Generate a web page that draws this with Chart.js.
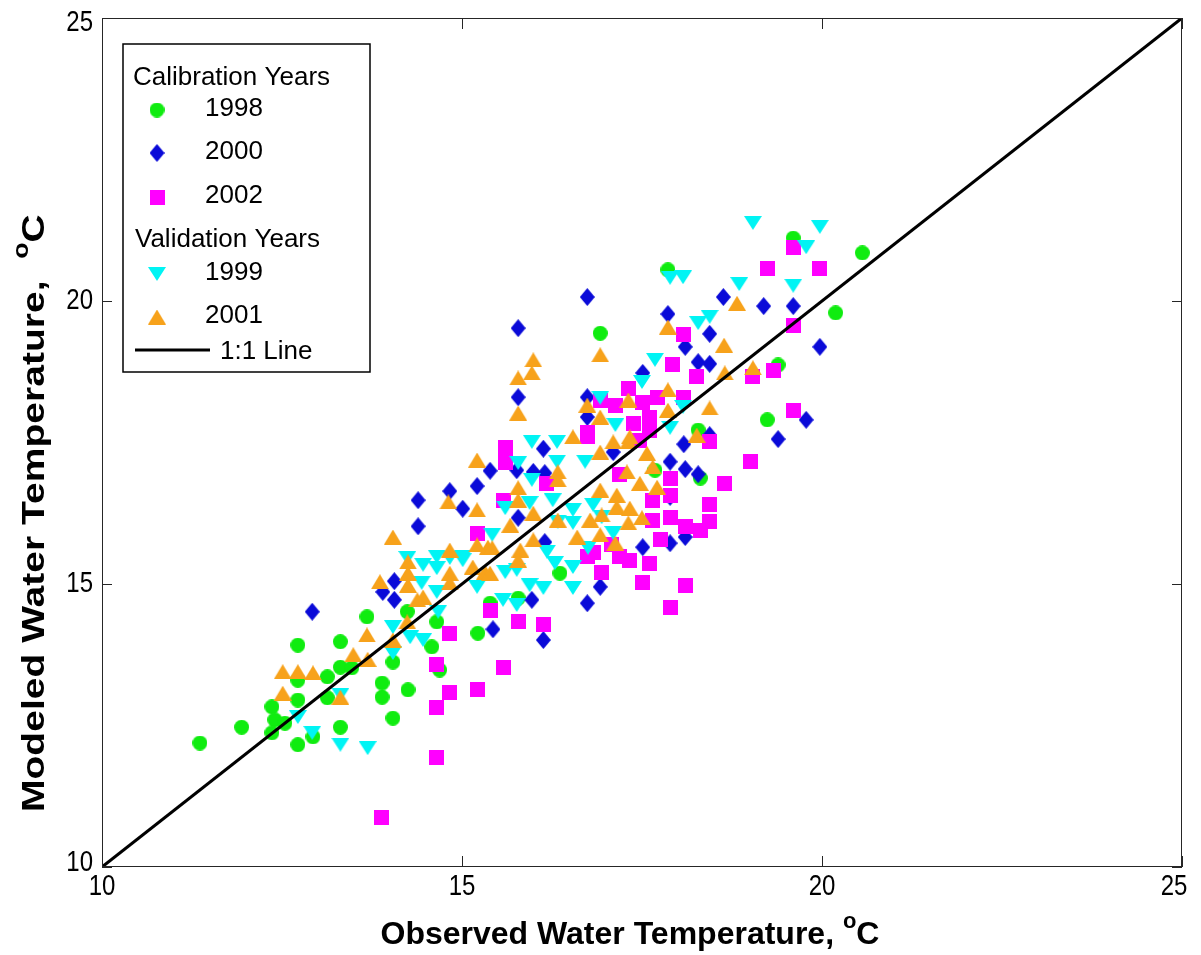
<!DOCTYPE html>
<html>
<head>
<meta charset="utf-8">
<title>Observed vs Modeled Water Temperature</title>
<script src="https://cdn.jsdelivr.net/npm/chart.js@4/dist/chart.umd.min.js"></script>
<style>
  html, body { margin: 0; padding: 0; background: #fff; }
  #wrap { width: 1201px; height: 955px; }
</style>
</head>
<body>
<div id="wrap"><canvas id="tempChart" width="1201" height="955"></canvas></div>
<script>
// observed / modeled water temperature (deg C) per year
var obs1998 = [11.36, 11.94, 12.36, 12.40, 12.36, 12.54, 12.72, 12.72, 12.72, 12.72, 12.93, 13.13, 13.13, 13.31,
  13.31, 13.47, 13.31, 13.68, 13.89, 13.89, 14.04, 14.25, 14.04, 14.24, 14.65, 14.58, 15.22, 15.39, 15.78, 16.36,
  16.92, 17.86, 19.60, 20.56, 20.19, 19.24, 18.28, 18.31, 17.68, 19.39, 14.69];
var mod1998 = [12.19, 12.47, 12.83, 12.60, 12.37, 12.54, 13.92, 13.30, 12.95, 12.16, 12.30, 13.36, 12.99, 13.98,
  13.53, 13.52, 12.47, 14.42, 13.25, 13.00, 13.62, 13.13, 12.63, 14.51, 14.33, 13.89, 14.13, 14.66, 14.75, 15.19,
  19.43, 20.55, 21.11, 20.85, 19.79, 17.90, 17.72, 16.87, 17.01, 18.87, 13.48];

var obs2000 = [12.92, 14.06, 14.06, 13.90, 14.39, 14.39, 14.83, 15.01, 15.21, 15.39, 16.13, 15.76, 15.99, 16.15,
  15.78, 16.15, 17.51, 16.92, 16.74, 15.97, 17.10, 16.74, 15.78, 15.78, 16.74, 17.51, 18.63, 19.19, 19.60, 17.86,
  18.44, 18.10, 19.97, 18.28, 18.44, 19.78, 19.39, 18.08, 17.89, 18.10, 18.28, 18.44, 17.89, 18.10, 17.89, 15.43,
  16.13, 16.74];
var mod2000 = [14.51, 15.05, 14.72, 14.86, 16.48, 16.02, 16.64, 16.33, 16.73, 17.00, 17.39, 17.01, 16.98, 16.96,
  16.17, 15.74, 15.65, 14.95, 14.66, 14.72, 17.33, 20.07, 19.52, 18.30, 18.30, 18.73, 20.07, 19.91, 19.91, 19.77,
  19.42, 19.19, 19.19, 18.92, 18.89, 17.90, 17.56, 17.47, 17.16, 17.03, 16.94, 17.63, 16.54, 15.83, 15.72, 14.20,
  14.01, 17.95];

var obs2002 = [13.88, 14.65, 14.65, 14.83, 15.22, 14.65, 15.58, 14.83, 15.78, 16.13, 15.39, 15.60, 15.60, 16.74,
  17.38, 17.61, 15.21, 16.82, 16.94, 17.19, 17.33, 17.50, 17.61, 15.57, 16.18, 17.65, 17.65, 16.74, 17.89, 17.89,
  17.89, 18.10, 18.31, 18.44, 18.44, 18.64, 19.00, 18.44, 18.10, 17.89, 17.75, 18.07, 17.93, 18.26, 17.31, 17.51,
  17.71, 17.13, 18.07, 19.32, 19.04, 17.61, 16.74, 19.60, 19.24, 19.97, 19.60, 19.60, 17.08, 16.92, 17.47, 17.19];
var mod2002 = [10.88, 11.94, 12.81, 13.09, 13.13, 13.57, 13.53, 14.12, 14.33, 14.28, 14.54, 17.42, 17.14, 17.60,
  17.84, 17.72, 15.90, 15.55, 15.21, 15.48, 15.42, 15.02, 15.37, 16.48, 16.78, 16.48, 16.13, 15.48, 16.87, 16.57,
  16.18, 16.01, 15.95, 16.10, 16.40, 16.78, 17.16, 17.51, 14.98, 14.58, 15.78, 19.40, 18.87, 18.66, 18.46, 18.20,
  18.30, 18.16, 18.30, 18.78, 18.66, 17.95, 17.67, 20.94, 20.58, 20.58, 19.56, 18.07, 15.69, 18.25, 17.54, 16.93];

var obs1999 = [12.72, 12.92, 13.31, 13.69, 13.31, 14.04, 14.28, 14.04, 14.24, 14.46, 14.65, 14.83, 15.01, 14.44,
  14.65, 15.21, 14.67, 14.46, 15.97, 16.32, 17.13, 15.78, 16.32, 16.71, 15.97, 15.60, 15.94, 16.26, 16.54, 16.82,
  16.94, 17.10, 15.42, 14.65, 15.01, 15.60, 15.76, 16.18, 16.29, 16.54, 15.94, 16.13, 16.54, 15.57, 15.76, 16.75,
  16.54, 16.33, 18.28, 18.44, 17.68, 17.50, 16.92, 18.07, 17.89, 19.04, 19.97, 19.78, 17.89, 18.07, 18.85, 19.60];
var mod1999 = [12.65, 12.37, 12.16, 12.10, 13.04, 14.24, 14.06, 13.78, 15.46, 15.34, 15.28, 15.46, 15.42, 15.02,
  14.86, 14.95, 14.51, 14.01, 17.51, 17.51, 17.81, 17.14, 17.16, 17.16, 16.84, 16.34, 16.43, 16.48, 16.31, 16.40,
  16.18, 15.90, 15.87, 15.48, 15.48, 15.21, 15.25, 15.57, 15.37, 15.30, 14.98, 14.93, 14.93, 14.72, 14.63, 15.64,
  16.08, 16.10, 19.61, 19.72, 18.96, 18.57, 18.29, 18.13, 17.76, 21.38, 21.31, 20.95, 20.41, 20.42, 20.30, 20.27];

var obs2001 = [13.68, 13.49, 13.69, 12.51, 12.72, 12.93, 12.51, 13.31, 14.04, 14.24, 14.04, 13.86, 14.25, 14.25,
  14.25, 14.46, 14.83, 14.83, 15.15, 15.36, 15.32, 14.38, 15.21, 14.81, 15.21, 15.78, 15.78, 16.33, 16.33, 16.54,
  16.92, 17.10, 17.31, 17.57, 17.65, 17.29, 17.47, 17.71, 16.92, 17.15, 17.15, 17.33, 17.50, 16.94, 16.78, 17.31,
  16.33, 15.99, 15.67, 17.13, 16.92, 16.60, 15.99, 15.81, 15.78, 15.42, 15.21, 14.83, 15.39, 18.82, 17.86, 16.92,
  18.64, 19.04, 18.65, 17.86, 17.31, 16.74, 16.92, 17.86, 18.44, 17.33, 18.26, 15.99, 15.97, 15.78, 15.78];
var mod2001 = [14.10, 13.75, 13.67, 13.45, 13.45, 13.43, 13.07, 13.00, 14.01, 14.33, 15.83, 15.04, 15.39, 15.19,
  14.98, 14.77, 15.60, 15.19, 15.30, 15.65, 15.21, 14.72, 17.19, 16.45, 16.31, 16.70, 16.48, 16.98, 16.84, 17.60,
  17.33, 17.51, 17.51, 17.31, 17.07, 16.98, 16.78, 16.71, 16.66, 16.57, 16.36, 16.34, 16.17, 16.22, 16.13, 16.08,
  16.13, 16.25, 16.04, 15.72, 15.87, 15.83, 15.78, 15.60, 15.42, 15.64, 15.69, 15.02, 15.19, 19.96, 19.54, 19.05,
  19.22, 18.82, 18.73, 18.43, 18.25, 18.16, 17.95, 18.07, 18.11, 17.60, 17.63, 18.96, 18.73, 18.64, 18.02];

// 1:1 reference line
var lineX = [10, 25];
var lineY = [10, 25];

var xTicks = [10, 15, 20, 25];
var yTicks = [10, 15, 20, 25];

function pairs(xs, ys) {
  return xs.map(function(v, i) { return { x: v, y: ys[i] }; });
}

// small canvases used as marker glyphs
function marker(shape, color, w, h) {
  var c = document.createElement("canvas");
  c.width = w;
  c.height = h;
  var g = c.getContext("2d");
  g.fillStyle = color;
  g.beginPath();
  if (shape === "circle") {
    g.ellipse(w / 2, h / 2, w / 2, h / 2, 0, 0, Math.PI * 2);
  } else if (shape === "diamond") {
    g.moveTo(w / 2, 0); g.lineTo(w, h / 2); g.lineTo(w / 2, h); g.lineTo(0, h / 2);
  } else if (shape === "square") {
    g.rect(0, 0, w, h);
  } else if (shape === "down") {
    g.moveTo(0, 0); g.lineTo(w, 0); g.lineTo(w / 2, h);
  } else {
    g.moveTo(w / 2, 0); g.lineTo(w, h); g.lineTo(0, h);
  }
  g.closePath();
  g.fill();
  return c;
}

var mk1998 = marker("circle", "#10ec10", 15, 15);
var mk2000 = marker("diamond", "#0a0ad8", 15, 18);
var mk2002 = marker("square", "#ff00ff", 15, 15);
var mk1999 = marker("down", "#00f4f4", 18, 14);
var mk2001 = marker("up", "#f7a21b", 18, 15);

function pointSet(label, xs, ys, img, order) {
  return {
    label: label,
    data: pairs(xs, ys),
    pointStyle: img,
    pointRadius: 8,
    order: order
  };
}

// frame with inward ticks on all four sides, plus tick labels and axis titles
var framePlugin = {
  id: "frame",
  afterDatasetsDraw: function(chart) {
    var ctx = chart.ctx;
    var a = chart.chartArea;
    var xs = chart.scales.x, ys = chart.scales.y;
    ctx.save();
    ctx.strokeStyle = "#262626";
    ctx.lineWidth = 1;
    ctx.strokeRect(a.left + 0.5, a.top + 0.5, a.right - a.left - 1, a.bottom - a.top - 1);
    ctx.beginPath();
    xTicks.forEach(function(v) {
      var px = Math.round(xs.getPixelForValue(v)) + 0.5;
      ctx.moveTo(px, a.bottom); ctx.lineTo(px, a.bottom - 11);
      ctx.moveTo(px, a.top); ctx.lineTo(px, a.top + 11);
    });
    yTicks.forEach(function(v) {
      var py = Math.round(ys.getPixelForValue(v)) + 0.5;
      ctx.moveTo(a.left, py); ctx.lineTo(a.left + 10, py);
      ctx.moveTo(a.right, py); ctx.lineTo(a.right - 10, py);
    });
    ctx.stroke();
    ctx.restore();
  },
  afterDraw: function(chart) {
    var ctx = chart.ctx;
    var a = chart.chartArea;
    var xs = chart.scales.x, ys = chart.scales.y;
    ctx.save();
    ctx.fillStyle = "#000";
    ctx.font = "24px 'Liberation Sans', Arial, sans-serif";
    ctx.textBaseline = "middle";

    ctx.textAlign = "center";
    xTicks.forEach(function(v) {
      ctx.save();
      ctx.translate(xs.getPixelForValue(v) - (v === 25 ? 8 : 0), a.bottom + 20);
      ctx.scale(1, 1.2);
      ctx.fillText(String(v), 0, 0);
      ctx.restore();
    });
    ctx.textAlign = "right";
    yTicks.forEach(function(v) {
      var shift = v === 10 ? -4 : (v === 25 ? 5 : 0);
      ctx.save();
      ctx.translate(a.left - 9, ys.getPixelForValue(v) + shift);
      ctx.scale(1, 1.2);
      ctx.fillText(String(v), 0, 0);
      ctx.restore();
    });

    // x axis title
    var bold = "bold 32px 'Liberation Sans', Arial, sans-serif";
    var supFont = "bold 22px 'Liberation Sans', Arial, sans-serif";
    var xt = "Observed Water Temperature, ";
    ctx.textAlign = "left";
    ctx.textBaseline = "alphabetic";
    ctx.font = bold;
    var w1 = ctx.measureText(xt).width;
    ctx.font = supFont;
    var wo = ctx.measureText("o").width;
    ctx.font = bold;
    var wc = ctx.measureText("C").width;
    var x0 = 630 - (w1 + wo + wc) / 2;
    ctx.fillText(xt, x0, 944);
    ctx.font = supFont;
    ctx.fillText("o", x0 + w1, 928);
    ctx.font = bold;
    ctx.fillText("C", x0 + w1 + wo, 944);

    // y axis title, read bottom to top
    ctx.save();
    ctx.translate(44, 812);
    ctx.rotate(-Math.PI / 2);
    ctx.scale(1.22, 1);
    var yt = "Modeled Water Temperature,  ";
    ctx.font = bold;
    var w2 = ctx.measureText(yt).width;
    ctx.fillText(yt, 0, 0);
    ctx.font = supFont;
    ctx.fillText("o", w2, -16);
    ctx.font = bold;
    ctx.fillText("C", w2 + wo, 0);
    ctx.restore();
    ctx.restore();
  }
};

// boxed legend with group headings
var legendPlugin = {
  id: "groupLegend",
  afterDraw: function(chart) {
    var ctx = chart.ctx;
    ctx.save();
    ctx.fillStyle = "#fff";
    ctx.fillRect(123, 44, 247, 328);
    ctx.strokeStyle = "#000";
    ctx.lineWidth = 1.5;
    ctx.strokeRect(123, 44, 247, 328);

    ctx.fillStyle = "#000";
    ctx.font = "26px 'Liberation Sans', Arial, sans-serif";
    ctx.textAlign = "left";
    ctx.textBaseline = "middle";
    var rows = [
      { text: "Calibration Years", y: 78, x: 133 },
      { text: "1998", y: 109, img: mk1998 },
      { text: "2000", y: 152, img: mk2000 },
      { text: "2002", y: 196, img: mk2002 },
      { text: "Validation Years", y: 240, x: 135 },
      { text: "1999", y: 273, img: mk1999 },
      { text: "2001", y: 316, img: mk2001 }
    ];
    rows.forEach(function(r) {
      if (r.img) {
        ctx.drawImage(r.img, 157 - r.img.width / 2, r.y + 1 - r.img.height / 2);
        ctx.fillText(r.text, 205, r.y);
      } else {
        ctx.fillText(r.text, r.x, r.y);
      }
    });
    ctx.beginPath();
    ctx.lineWidth = 3;
    ctx.moveTo(135, 350);
    ctx.lineTo(210, 350);
    ctx.stroke();
    ctx.fillText("1:1 Line", 220, 352);
    ctx.restore();
  }
};

var ctx = document.getElementById("tempChart").getContext("2d");

window.tempChart = new Chart(ctx, {
  type: "scatter",
  data: {
    datasets: [
      {
        type: "line",
        label: "1:1 Line",
        data: pairs(lineX, lineY),
        borderColor: "#000",
        borderWidth: 3,
        pointRadius: 0,
        showLine: true,
        fill: false,
        order: 0
      },
      pointSet("1998", obs1998, mod1998, mk1998, 5),
      pointSet("2000", obs2000, mod2000, mk2000, 4),
      pointSet("2002", obs2002, mod2002, mk2002, 3),
      pointSet("1999", obs1999, mod1999, mk1999, 2),
      pointSet("2001", obs2001, mod2001, mk2001, 1)
    ]
  },
  options: {
    responsive: false,
    animation: false,
    layout: {
      padding: { left: 0, right: 19, top: 18, bottom: 0 }
    },
    scales: {
      x: {
        type: "linear",
        min: 10,
        max: 25,
        grid: { display: false },
        border: { display: false },
        ticks: { display: false },
        afterFit: function(s) { s.height = 88; }
      },
      y: {
        type: "linear",
        min: 10,
        max: 25,
        grid: { display: false },
        border: { display: false },
        ticks: { display: false },
        afterFit: function(s) { s.width = 102; }
      }
    },
    plugins: {
      legend: { display: false },
      tooltip: { enabled: false }
    }
  },
  plugins: [framePlugin, legendPlugin]
});
</script>
</body>
</html>
